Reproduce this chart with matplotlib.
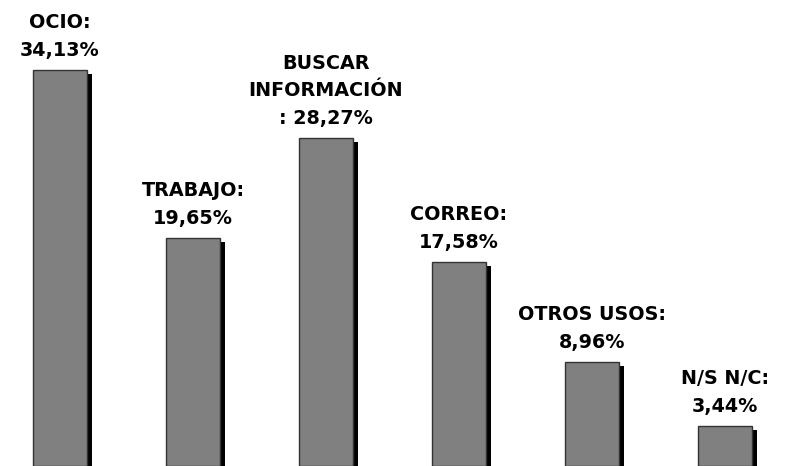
import matplotlib
matplotlib.use("Agg")
import matplotlib.pyplot as plt
import numpy as np

categories = ["OCIO:", "TRABAJO:", "BUSCAR\nINFORMACIÓN\n:", "CORREO:", "OTROS USOS:", "N/S N/C:"]
values = [34.13, 19.65, 28.27, 17.58, 8.96, 3.44]
value_labels = ["34,13%", "19,65%", "28,27%", "17,58%", "8,96%", "3,44%"]

fig = plt.figure(figsize=(7.87, 4.66), dpi=100)
ax = fig.add_axes([0, 0, 1, 1])

x = np.arange(len(values))
width = 0.406
dx = 0.0376
dy = 0.345

ax.bar(x + dx, values, width=width, bottom=-dy, color="black", edgecolor="black", linewidth=0, zorder=1)
ax.bar(x, values, width=width, color="#808080", edgecolor="#333333", linewidth=1.0, zorder=2)

for xi, v, cat, vl in zip(x, values, categories, value_labels):
    if cat.endswith("\n:"):
        txt = cat[:-1] + ": " + vl
    else:
        txt = cat + "\n" + vl
    ax.annotate(txt, xy=(xi, v), xytext=(0, 7.5), textcoords="offset points",
                ha="center", va="bottom", fontsize=13.8, fontweight="bold",
                linespacing=1.55, color="black", zorder=3)

ax.set_xlim(-0.451, 5.466)
ax.set_ylim(0, 40.17)
ax.axis("off")

fig.savefig("out.png", dpi=100)
